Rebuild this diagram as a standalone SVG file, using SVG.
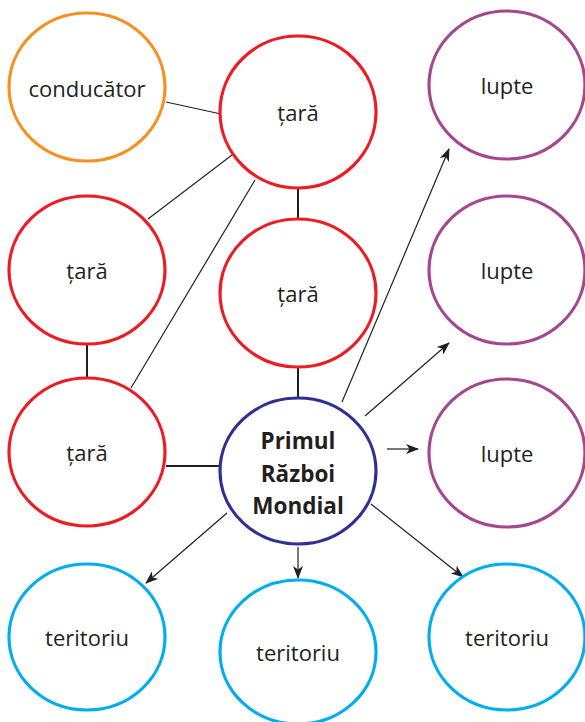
<svg xmlns="http://www.w3.org/2000/svg" width="585" height="722" viewBox="0 0 585 722">
<style>
.n{fill:#fff;stroke-width:3.2}
.o{stroke:#F7901E}.r{stroke:#ED1C24}.p{stroke:#A4478F}.b{stroke:#00AEEF}.c{stroke:#2E3192}
text{font-family:"Open Sans","Noto Sans",sans-serif;font-size:22px;fill:#231F20;text-anchor:middle;dominant-baseline:central}
.bold{font-weight:bold;font-size:22.5px}
.l{stroke:#231F20;stroke-width:1.2;fill:none}
.t{stroke:#231F20;stroke-width:2;fill:none}
.a{stroke:#231F20;stroke-width:1.2;fill:none;marker-end:url(#ah)}
</style>
<defs>
<marker id="ah" viewBox="0 0 13 10" refX="12" refY="5" markerWidth="13" markerHeight="10" markerUnits="userSpaceOnUse" orient="auto">
<path d="M0,0 L13,5 L0,10 L3.5,5 Z" fill="#231F20"/>
</marker>
</defs>
<g id="connectors">
<line class="l" x1="166" y1="102" x2="221" y2="114"/>
<line class="l" x1="232" y1="155" x2="148" y2="219"/>
<line class="l" x1="255" y1="180" x2="131" y2="388"/>
<line class="t" x1="298" y1="188" x2="298" y2="219"/>
<line class="t" x1="87" y1="345" x2="87" y2="378"/>
<line class="t" x1="298" y1="367" x2="298" y2="398"/>
<line class="t" x1="166" y1="466" x2="220" y2="466"/>
<line class="a" x1="342" y1="402" x2="449" y2="149"/>
<line class="a" x1="365" y1="416" x2="449" y2="343"/>
<line class="a" x1="387" y1="449" x2="418" y2="449"/>
<line class="a" x1="227" y1="513" x2="146" y2="583"/>
<line class="a" x1="298" y1="547" x2="298" y2="578"/>
<line class="a" x1="371" y1="504" x2="463" y2="577"/>
</g>
<g id="conducator"><ellipse class="n o" cx="87" cy="87" rx="78" ry="74"/><text x="87" y="88">conducător</text></g>
<g id="tara-top"><ellipse class="n r" cx="298" cy="112" rx="78" ry="76"/><text x="298" y="112">țară</text></g>
<g id="tara-left"><ellipse class="n r" cx="87" cy="270" rx="78" ry="74"/><text x="87" y="270">țară</text></g>
<g id="tara-center"><ellipse class="n r" cx="298" cy="293" rx="78" ry="74"/><text x="298" y="293">țară</text></g>
<g id="tara-bottom"><ellipse class="n r" cx="87" cy="452" rx="78" ry="74"/><text x="87" y="452">țară</text></g>
<g id="primul"><ellipse class="n c" cx="298" cy="471" rx="78" ry="73"/>
<text class="bold" x="298" y="440">Primul</text><text class="bold" x="298" y="473">Război</text><text class="bold" x="298" y="505">Mondial</text></g>
<g id="lupte-1"><ellipse class="n p" cx="507" cy="85" rx="78" ry="74"/><text x="507" y="85">lupte</text></g>
<g id="lupte-2"><ellipse class="n p" cx="507" cy="270" rx="78" ry="74"/><text x="507" y="270">lupte</text></g>
<g id="lupte-3"><ellipse class="n p" cx="507" cy="453" rx="78" ry="74"/><text x="507" y="453">lupte</text></g>
<g id="teritoriu-1"><ellipse class="n b" cx="87" cy="637" rx="78" ry="73"/><text x="87" y="637">teritoriu</text></g>
<g id="teritoriu-2"><ellipse class="n b" cx="298" cy="652" rx="78" ry="72"/><text x="298" y="652">teritoriu</text></g>
<g id="teritoriu-3"><ellipse class="n b" cx="507" cy="637" rx="78" ry="73"/><text x="507" y="637">teritoriu</text></g>
</svg>
